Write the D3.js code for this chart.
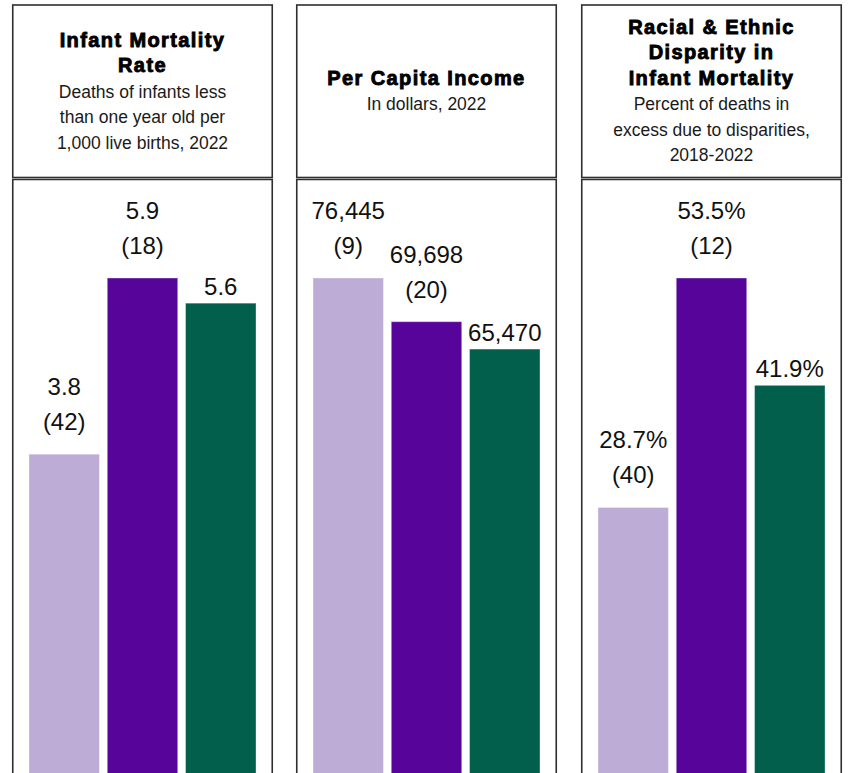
<!DOCTYPE html>
<html>
<head>
<meta charset="utf-8">
<script src="https://cdn.jsdelivr.net/npm/d3@7"></script>
<style>
  html, body { margin: 0; padding: 0; background: #fff; }
  svg { display: block; }
</style>
</head>
<body>
<svg id="chart" width="850" height="773"></svg>
<script>
// Three indicator panels, each comparing the same three groups.
const groups = ["A", "B", "C"];
const groupColors = ["#bdadd6", "#57049b", "#015f4b"];

const titles = [
  ["Infant Mortality", "Rate"],
  ["Per Capita Income"],
  ["Racial & Ethnic", "Disparity in", "Infant Mortality"]
];
const subtitles = [
  ["Deaths of infants less", "than one year old per", "1,000 live births, 2022"],
  ["In dollars, 2022"],
  ["Percent of deaths in", "excess due to disparities,", "2018-2022"]
];

const infantMortality = [3.8, 5.9, 5.6];
const perCapitaIncome = [76445, 69698, 65470];
const disparityShare = [28.7, 53.5, 41.9];

const infantMortalityRanks = [42, 18, null];
const perCapitaIncomeRanks = [9, 20, null];
const disparityShareRanks = [40, 12, null];

const seriesValues = [infantMortality, perCapitaIncome, disparityShare];
const seriesRanks = [infantMortalityRanks, perCapitaIncomeRanks, disparityShareRanks];
const valueFormats = [d3.format(".1f"), d3.format(",.0f"), v => d3.format(".1f")(v) + "%"];

const svg = d3.select("#chart");
const W = 850, H = 773;

// panel layout
const panelX = d3.scaleBand().domain(d3.range(3)).range([12, 842]).paddingInner(0.0826);
const panelW = 261;
const headerTop = 5, headerBottom = 177.5, plotTop = 179.5;
const frameColor = "#2e2e2e";
const fontFamily = "'Liberation Sans', Arial, Helvetica, sans-serif";

seriesValues.forEach((values, p) => {
  const x0 = Math.round(panelX(p));
  const g = svg.append("g").attr("transform", `translate(${x0},0)`);

  // header box
  g.append("rect")
    .attr("x", 0.75).attr("y", headerTop)
    .attr("width", panelW - 1.5).attr("height", headerBottom - headerTop)
    .attr("fill", "#fff").attr("stroke", frameColor).attr("stroke-width", 1.6);

  // plot box (open at the bottom)
  g.append("path")
    .attr("d", `M0.75,${H + 2} V${plotTop} H${panelW - 0.75} V${H + 2}`)
    .attr("fill", "none").attr("stroke", frameColor).attr("stroke-width", 1.6);

  // header text
  const lines = titles[p].map(t => ({ t, bold: true }))
    .concat(subtitles[p].map(t => ({ t, bold: false })));
  const lineGap = 25.5;
  const midBaseline = 97.5;
  const firstBaseline = midBaseline - (lines.length - 1) * lineGap / 2;
  g.append("g").selectAll("text").data(lines).join("text")
    .attr("x", panelW / 2)
    .attr("y", (d, i) => firstBaseline + i * lineGap)
    .attr("text-anchor", "middle")
    .attr("font-family", fontFamily)
    .attr("font-size", d => d.bold ? 20 : 17.5)
    .attr("font-weight", d => d.bold ? "bold" : "normal")
    .attr("letter-spacing", d => d.bold ? 1.4 : 0)
    .attr("stroke", d => d.bold ? "#000" : "none")
    .attr("stroke-width", d => d.bold ? 0.9 : 0)
    .attr("fill", d => d.bold ? "#000" : "#1a1a1a")
    .text(d => d.t);

  // bars
  const x = d3.scaleBand().domain(groups).range([17, panelW - 17]).paddingInner(0.1);
  const y = d3.scaleLinear().domain([0, d3.max(values)]).range([H, 278]);

  const data = groups.map((k, i) => ({ k, v: values[i], rank: seriesRanks[p][i], color: groupColors[i] }));

  g.append("g").selectAll("rect").data(data).join("rect")
    .attr("x", d => x(d.k))
    .attr("y", d => y(d.v))
    .attr("width", x.bandwidth())
    .attr("height", d => y(0) - y(d.v) + 2)
    .attr("fill", d => d.color)
    .attr("stroke", "#ffffff").attr("stroke-opacity", 0.35).attr("stroke-width", 1);

  // value labels with optional rank line
  const lab = g.append("g").selectAll("g").data(data).join("g")
    .attr("transform", d => `translate(${x(d.k) + x.bandwidth() / 2},${y(d.v)})`)
    .attr("font-family", fontFamily).attr("font-size", 24)
    .attr("fill", "#111").attr("text-anchor", "middle");

  lab.append("text")
    .attr("y", d => d.rank != null ? -59 : -8)
    .text(d => valueFormats[p](d.v));
  lab.filter(d => d.rank != null).append("text")
    .attr("y", -24)
    .text(d => `(${d.rank})`);
});
</script>
</body>
</html>
